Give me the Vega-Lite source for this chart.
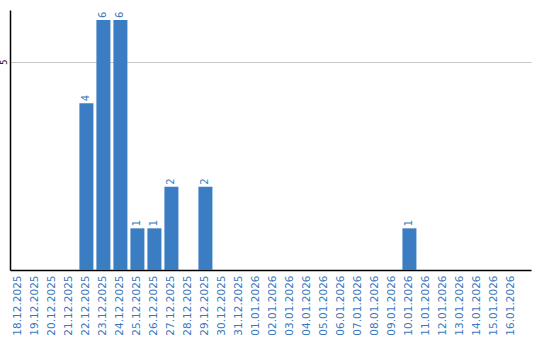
{
  "$schema": "https://vega.github.io/schema/vega-lite/v6.json",
  "width": 521,
  "height": 260,
  "autosize": {"type": "none"},
  "padding": {"left": 10, "top": 10, "right": 9, "bottom": 70},
  "background": "white",
  "config": {"view": {"stroke": null}, "font": "DejaVu Sans"},
  "data": {"values": [
    {"date": "18.12.2025", "count": 0},
    {"date": "19.12.2025", "count": 0},
    {"date": "20.12.2025", "count": 0},
    {"date": "21.12.2025", "count": 0},
    {"date": "22.12.2025", "count": 4},
    {"date": "23.12.2025", "count": 6},
    {"date": "24.12.2025", "count": 6},
    {"date": "25.12.2025", "count": 1},
    {"date": "26.12.2025", "count": 1},
    {"date": "27.12.2025", "count": 2},
    {"date": "28.12.2025", "count": 0},
    {"date": "29.12.2025", "count": 2},
    {"date": "30.12.2025", "count": 0},
    {"date": "31.12.2025", "count": 0},
    {"date": "01.01.2026", "count": 0},
    {"date": "02.01.2026", "count": 0},
    {"date": "03.01.2026", "count": 0},
    {"date": "04.01.2026", "count": 0},
    {"date": "05.01.2026", "count": 0},
    {"date": "06.01.2026", "count": 0},
    {"date": "07.01.2026", "count": 0},
    {"date": "08.01.2026", "count": 0},
    {"date": "09.01.2026", "count": 0},
    {"date": "10.01.2026", "count": 1},
    {"date": "11.01.2026", "count": 0},
    {"date": "12.01.2026", "count": 0},
    {"date": "13.01.2026", "count": 0},
    {"date": "14.01.2026", "count": 0},
    {"date": "15.01.2026", "count": 0},
    {"date": "16.01.2026", "count": 0}
  ]},
  "encoding": {
    "x": {
      "field": "date", "type": "ordinal", "sort": null,
      "scale": {"paddingInner": 0.176, "paddingOuter": 0.41, "align": 0.1},
      "axis": {
        "title": null, "labelAngle": -90, "labelAlign": "right", "labelBaseline": "middle",
        "ticks": false, "labelPadding": 5, "labelFontSize": 10.5, "labelColor": "#3a78be",
        "domainColor": "#000000", "domainWidth": 1.5, "grid": false
      }
    },
    "y": {
      "field": "count", "type": "quantitative",
      "scale": {"domain": [0, 6.24], "nice": false, "zero": true},
      "axis": {
        "title": null, "values": [5], "ticks": false, "labelAngle": -90,
        "labelAlign": "center", "labelBaseline": "bottom", "labelPadding": 2,
        "labelFontSize": 8, "labelColor": "#000000", "domainColor": "#000000", "domainWidth": 1.5,
        "grid": true, "gridColor": "#c8c8c8", "gridWidth": 1
      }
    }
  },
  "layer": [
    {"mark": {"type": "bar", "color": "#3a7dc3"}},
    {
      "transform": [{"filter": "datum.count > 0"}],
      "mark": {"type": "text", "angle": 270, "align": "left", "baseline": "middle", "dx": 2, "fontSize": 10, "color": "#3a78be"},
      "encoding": {"text": {"field": "count", "type": "quantitative"}}
    }
  ]
}
